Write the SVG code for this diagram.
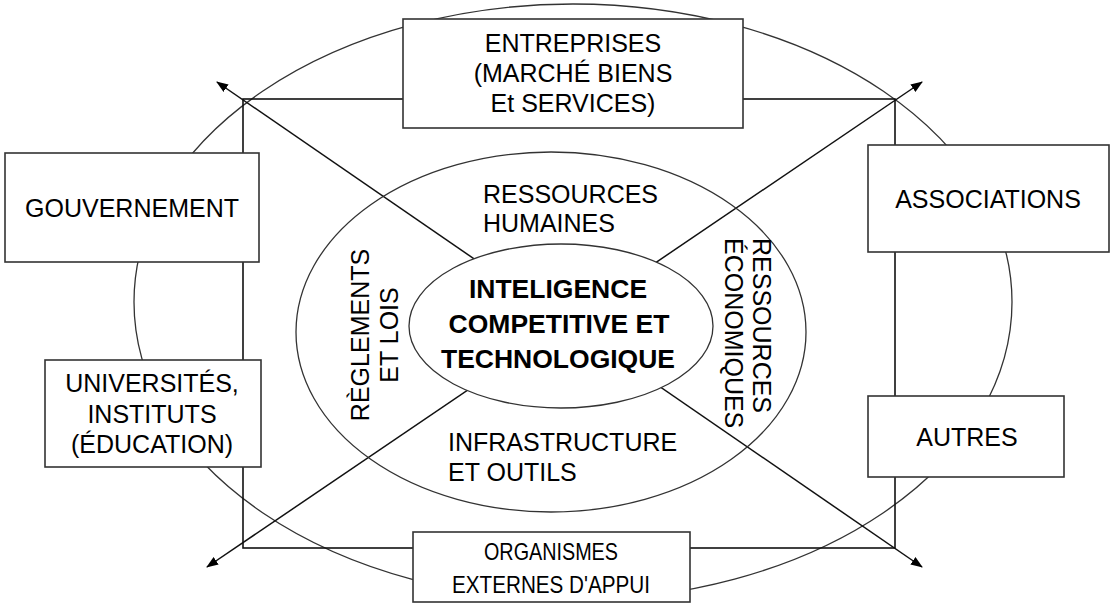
<svg xmlns="http://www.w3.org/2000/svg" width="1110" height="604" viewBox="0 0 1110 604">
<style>
  .ell { fill: none; stroke: #333; stroke-width: 1.3; }
  .frame { fill: none; stroke: #111; stroke-width: 1.6; }
  .diag { stroke: #111; stroke-width: 1.5; fill: none; }
  .box { fill: #fff; stroke: #333; stroke-width: 1.6; }
  .t { font-family: "Liberation Sans", Arial, sans-serif; font-size: 25px; fill: #000; }
  .c { text-anchor: middle; }
  .sm { font-size: 24px; }
  .b { font-weight: bold; font-size: 26.5px; }
</style>
<defs>
  <marker id="arr" markerUnits="userSpaceOnUse" markerWidth="12" markerHeight="9" refX="11" refY="4.5" orient="auto-start-reverse">
    <path d="M0,0 L12,4.5 L0,9 z" fill="#000"/>
  </marker>
</defs>
<rect width="1110" height="604" fill="#fff"/>
<g id="outer-ring">
  <ellipse class="ell" cx="573" cy="302" rx="439" ry="298"/>
</g>
<g id="connectors">
  <rect class="frame" x="243" y="99" width="652" height="449"/>
  <line class="diag" x1="217" y1="82" x2="922" y2="567" marker-start="url(#arr)" marker-end="url(#arr)"/>
  <line class="diag" x1="207" y1="567" x2="922" y2="82" marker-start="url(#arr)" marker-end="url(#arr)"/>
</g>
<g id="middle-ring">
  <ellipse class="ell" cx="551" cy="332" rx="255" ry="180"/>
  <text class="t" x="483" y="203">RESSOURCES</text>
  <text class="t" x="483" y="232">HUMAINES</text>
  <text class="t" x="448" y="451">INFRASTRUCTURE</text>
  <text class="t" x="448" y="481">ET OUTILS</text>
  <text class="t c" transform="translate(369,335) rotate(-90)">RÈGLEMENTS</text>
  <text class="t c" transform="translate(398,335) rotate(-90)">ET LOIS</text>
  <text class="t" transform="translate(753,238) rotate(90)">RESSOURCES</text>
  <text class="t" transform="translate(725,238) rotate(90)">ÉCONOMIQUES</text>
</g>
<g id="center">
  <ellipse class="ell" cx="561" cy="326" rx="152" ry="82" style="fill:#fff"/>
  <text class="t b c" x="558" y="298">INTELIGENCE</text>
  <text class="t b c" x="559" y="333">COMPETITIVE ET</text>
  <text class="t b c" x="558" y="368">TECHNOLOGIQUE</text>
</g>
<g id="entreprises">
  <rect class="box" x="403" y="19" width="340" height="109"/>
  <text class="t c" x="573" y="52">ENTREPRISES</text>
  <text class="t c" x="573" y="82">(MARCHÉ BIENS</text>
  <text class="t c" x="573" y="112">Et SERVICES)</text>
</g>
<g id="gouvernement">
  <rect class="box" x="5" y="153" width="254" height="109"/>
  <text class="t c" x="132" y="217">GOUVERNEMENT</text>
</g>
<g id="universites">
  <rect class="box" x="45" y="360" width="216" height="107"/>
  <text class="t c" x="152" y="392">UNIVERSITÉS,</text>
  <text class="t c" x="152" y="423">INSTITUTS</text>
  <text class="t c" x="152" y="453">(ÉDUCATION)</text>
</g>
<g id="associations">
  <rect class="box" x="868" y="145" width="241" height="107"/>
  <text class="t c" x="988" y="208">ASSOCIATIONS</text>
</g>
<g id="autres">
  <rect class="box" x="868" y="396" width="196" height="81"/>
  <text class="t c" x="967" y="446">AUTRES</text>
</g>
<g id="organismes">
  <rect class="box" x="413" y="532" width="277" height="70"/>
  <text class="t c sm" x="551" y="560" textLength="134" lengthAdjust="spacingAndGlyphs">ORGANISMES</text>
  <text class="t c sm" x="551" y="593" textLength="198" lengthAdjust="spacingAndGlyphs">EXTERNES D'APPUI</text>
</g>
</svg>
